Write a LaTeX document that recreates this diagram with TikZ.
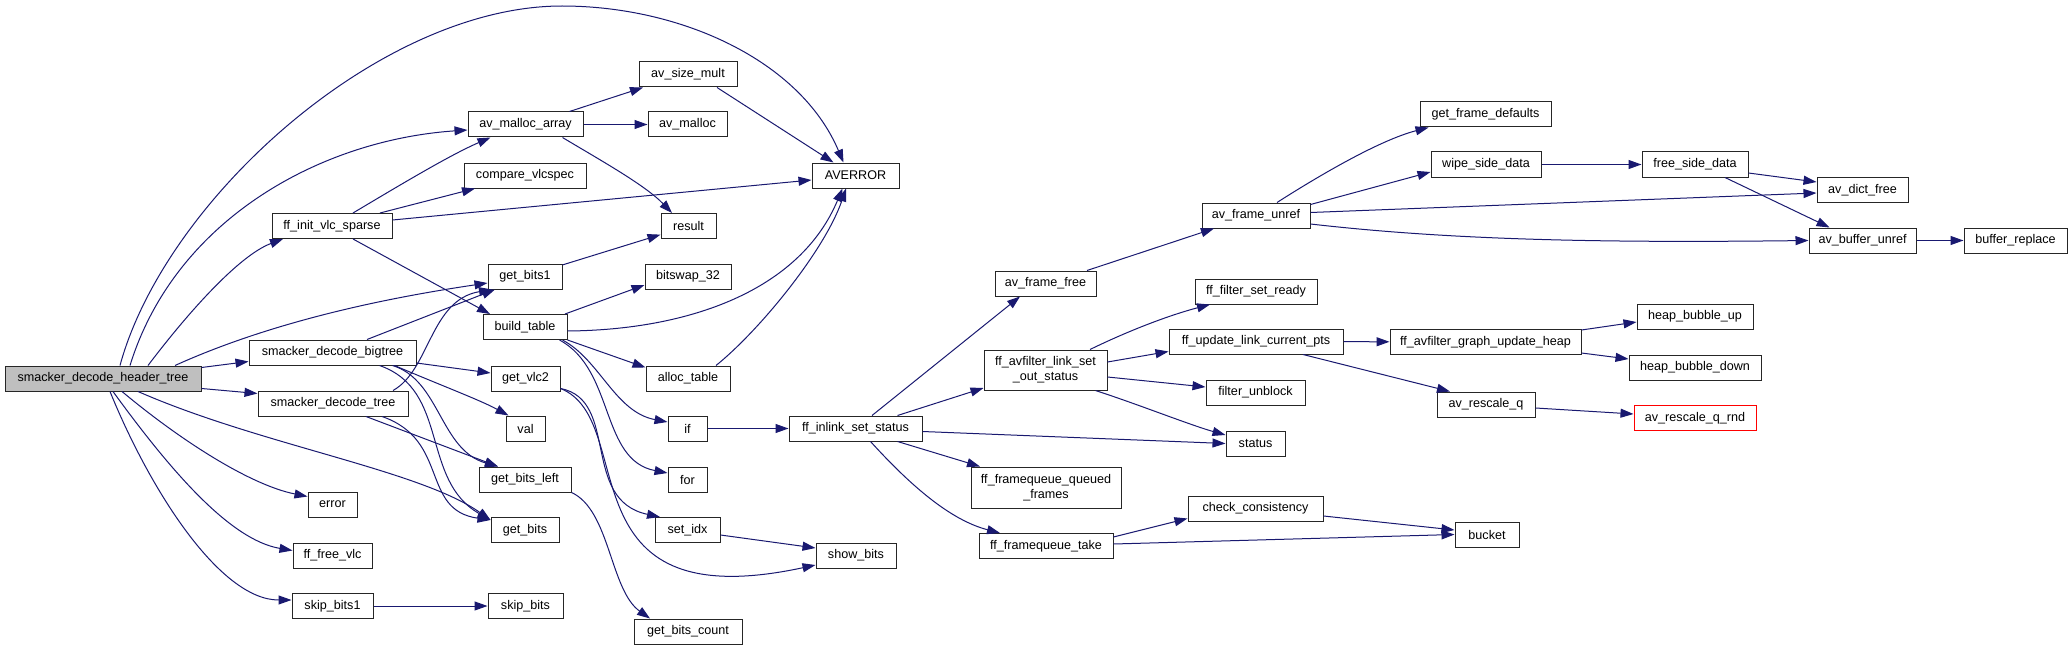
\documentclass[tikz,border=0pt]{standalone}
\usepackage{fontspec}
\setmainfont{Liberation Sans}
\usetikzlibrary{arrows.meta}
\definecolor{edgeblue}{HTML}{191970}
\definecolor{rootgrey}{HTML}{BFBFBF}
\tikzset{
  fn/.style={draw=black!85, line width=1pt, fill=white, inner sep=0pt, minimum height=25pt,
    font=\fontsize{12.6}{15}\selectfont, align=center},
  root/.style={fn, fill=rootgrey},
  redfn/.style={fn, draw=red},
  e/.style={draw=edgeblue, line width=1pt, -{Triangle[length=13pt,width=9pt]}},
}
\begin{document}
\begin{tikzpicture}[x=1pt,y=-1pt]
\useasboundingbox[fill=white] (0,0) rectangle (2072,650);
% nodes
\node[root, minimum width=196pt] (H) at (103,378.5) {smacker\_decode\_header\_tree};
\node[fn, minimum width=115pt] (M) at (525.5,124.5) {av\_malloc\_array};
\node[fn, minimum width=98pt] (asm) at (688,74.5) {av\_size\_mult};
\node[fn, minimum width=79pt] (am) at (687.5,124.5) {av\_malloc};
\node[fn, minimum width=122pt] (cv) at (525,175.5) {compare\_vlcspec};
\node[fn, minimum width=87pt] (AV) at (855.5,175.5) {AVERROR};
\node[fn, minimum width=120pt] (F) at (332,226) {ff\_init\_vlc\_sparse};
\node[fn, minimum width=55pt] (res) at (688.5,226) {result};
\node[fn, minimum width=74pt] (gb1) at (525,276.5) {get\_bits1};
\node[fn, minimum width=86pt] (bs) at (688,276.5) {bitswap\_32};
\node[fn, minimum width=84pt] (bt) at (525,327) {build\_table};
\node[fn, minimum width=167pt] (B) at (332.5,352.5) {smacker\_decode\_bigtree};
\node[fn, minimum width=69pt] (V) at (525.5,378.5) {get\_vlc2};
\node[fn, minimum width=84pt] (at) at (688,378.5) {alloc\_table};
\node[fn, minimum width=150pt] (T) at (333,403.5) {smacker\_decode\_tree};
\node[fn, minimum width=39pt] (val) at (525.5,428.5) {val};
\node[fn, minimum width=39pt] (if) at (687.5,428.5) {if};
\node[fn, minimum width=133pt] (IS) at (855.5,428.5) {ff\_inlink\_set\_status};
\node[fn, minimum width=92pt] (gbl) at (525,479.5) {get\_bits\_left};
\node[fn, minimum width=39pt] (for) at (687.5,479.5) {for};
\node[fn, minimum width=49pt] (err) at (332.5,504.5) {error};
\node[fn, minimum width=68pt] (gb) at (525,530) {get\_bits};
\node[fn, minimum width=65pt] (si) at (687.5,530) {set\_idx};
\node[fn, minimum width=79pt] (ffv) at (332.5,555.5) {ff\_free\_vlc};
\node[fn, minimum width=80pt] (sb) at (856,555.5) {show\_bits};
\node[fn, minimum width=81pt] (sk1) at (332.5,606) {skip\_bits1};
\node[fn, minimum width=75pt] (sk) at (525.5,606) {skip\_bits};
\node[fn, minimum width=108pt] (gbc) at (688,631.5) {get\_bits\_count};
\node[fn, minimum width=101pt] (aff) at (1045.5,283.5) {av\_frame\_free};
\node[fn, minimum width=108pt] (FU) at (1256,215.5) {av\_frame\_unref};
\node[fn, minimum width=122pt] (fsr) at (1256,291.5) {ff\_filter\_set\_ready};
\node[fn, minimum width=123pt, minimum height=40pt] (LS) at (1045.5,370) {ff\_avfilter\_link\_set\\\_out\_status};
\node[fn, minimum width=174pt] (UP) at (1256,341.5) {ff\_update\_link\_current\_pts};
\node[fn, minimum width=99pt] (fub) at (1255.5,392.5) {filter\_unblock};
\node[fn, minimum width=59pt] (st) at (1255.5,443.5) {status};
\node[fn, minimum width=150pt, minimum height=41pt] (qf) at (1046,487.5) {ff\_framequeue\_queued\\\_frames};
\node[fn, minimum width=135pt] (cc) at (1255.5,508.5) {check\_consistency};
\node[fn, minimum width=134pt] (tk) at (1046,546) {ff\_framequeue\_take};
\node[fn, minimum width=64pt] (bk) at (1487,534.5) {bucket};
\node[fn, minimum width=131pt] (gfd) at (1485.5,114.5) {get\_frame\_defaults};
\node[fn, minimum width=110pt] (wsd) at (1486,164.5) {wipe\_side\_data};
\node[fn, minimum width=106pt] (fsd) at (1695,164.5) {free\_side\_data};
\node[fn, minimum width=91pt] (adf) at (1862.5,190) {av\_dict\_free};
\node[fn, minimum width=107pt] (abu) at (1862.5,240.5) {av\_buffer\_unref};
\node[fn, minimum width=103pt] (br) at (2015.5,240.5) {buffer\_replace};
\node[fn, minimum width=116pt] (hbu) at (1695,316.5) {heap\_bubble\_up};
\node[fn, minimum width=191pt] (guh) at (1485.5,342) {ff\_avfilter\_graph\_update\_heap};
\node[fn, minimum width=132pt] (hbd) at (1695,367.5) {heap\_bubble\_down};
\node[fn, minimum width=98pt] (arq) at (1486,404.5) {av\_rescale\_q};
\node[redfn, minimum width=122pt] (arqr) at (1695,418) {av\_rescale\_q\_rnd};
\coordinate (apex) at (562,6);
% edges from root
\draw[e] ([xshift=17pt]H.north) .. controls (165,200) and (380,6) .. (apex) .. controls (680,6) and (800,60) .. ([xshift=-12pt]AV.north);
\draw[e] ([xshift=27pt]H.north) .. controls (175,220) and (320,140) .. ([yshift=-5.5pt]M.west);
\draw[e] ([xshift=45pt]H.north) .. controls (190,310) and (240,255) .. ([xshift=-49pt]F.south);
\draw[e] ([xshift=72pt]H.north) .. controls (280,318) and (400,296) .. ([yshift=-6.5pt]gb1.west);
\draw[e] ([yshift=11pt]H.east) -- ([yshift=-9pt]B.west);
\draw[e] ([yshift=-10pt]H.east) -- ([yshift=10pt]T.west);
\draw[e] ([xshift=35pt]H.south) .. controls (260,445) and (420,470) .. ([yshift=10pt]gb.west);
\draw[e] ([xshift=19pt]H.south) .. controls (180,440) and (250,485) .. ([yshift=8pt]err.west);
\draw[e] ([xshift=10pt]H.south) .. controls (170,470) and (230,540) .. ([yshift=5pt]ffv.west);
\draw[e] ([xshift=7pt]H.south) .. controls (150,490) and (220,600) .. ([yshift=6pt]sk1.west);
% ff_init_vlc_sparse
\draw[e] ([xshift=21pt]F.north) .. controls (400,185) and (450,155) .. ([xshift=-35pt]M.south);
\draw[e] ([xshift=48pt]F.north) -- ([xshift=-50pt]cv.south);
\draw[e] ([yshift=6pt]F.east) -- ([yshift=-4.5pt]AV.west);
\draw[e] ([xshift=21pt]F.south) -- ([xshift=-35pt]bt.north);
% av_malloc_array
\draw[e] ([xshift=44pt]M.north) -- ([xshift=-45pt]asm.south);
\draw[e] (M) -- (am);
\draw[e] ([xshift=37pt]M.south) .. controls (600,160) and (645,185) .. ([xshift=-16.5pt]res.north);
\draw[e] ([xshift=29pt]asm.south) -- ([xshift=-22pt]AV.north);
\draw[e] (gb1) -- (res);
\draw[e] ([xshift=28pt]at.north) .. controls (760,330) and (825,250) .. ([xshift=-9.5pt]AV.south);
% build_table
\draw[e] ([yshift=-4pt]bt.east) .. controls (690,330) and (800,290) .. ([xshift=-13pt]AV.south);
\draw[e] ([xshift=40pt]bt.north) -- ([yshift=-8.5pt]bs.west);
\draw[e] (bt.south east) -- ([yshift=11pt]at.west);
\draw[e] ([xshift=-5pt]bt.south east) .. controls (600,360) and (615,412) .. ([yshift=6.5pt]if.west);
\draw[e] ([xshift=-8pt]bt.south east) .. controls (615,370) and (600,460) .. ([yshift=6.5pt]for.west);
% bigtree
\draw[e] ([xshift=34.5pt]B.north) -- ([xshift=-30pt]gb1.south);
\draw[e] ([yshift=-10.5pt]B.east) -- ([yshift=5.5pt]V.west);
\draw[e] ([xshift=62pt]B.south) .. controls (440,385) and (480,400) .. ([xshift=-17pt]val.north);
\draw[e] ([xshift=60pt]B.south) .. controls (440,380) and (440,450) .. ([xshift=-27pt]gbl.north);
\draw[e] ([xshift=47pt]B.south) .. controls (450,390) and (420,480) .. ([yshift=10pt]gb.west);
% tree
\draw[e] ([xshift=60pt]T.north) .. controls (430,370) and (430,300) .. ([xshift=-33pt]gb1.south);
\draw[e] ([xshift=33pt]T.south) -- ([xshift=-27pt]gbl.north);
\draw[e] ([xshift=49pt]T.south) .. controls (450,440) and (420,510) .. ([yshift=10pt]gb.west);
% get_vlc2 etc
\draw[e] ([yshift=-10pt]V.east) .. controls (620,400) and (580,500) .. ([xshift=-27.5pt]si.north);
\draw[e] ([yshift=-10pt]V.east) .. controls (640,420) and (560,620) .. ([yshift=-9.5pt]sb.west);
\draw[e] (gbl.south east) .. controls (610,510) and (610,590) .. ([xshift=-38pt]gbc.north);
\draw[e] ([yshift=-5pt]si.east) -- ([yshift=7.5pt]sb.west);
\draw[e] (sk1) -- (sk);
\draw[e] (if) -- (IS);
% ff_inlink_set_status
\draw[e] ([xshift=16.5pt]IS.north) -- ([xshift=-25.5pt]aff.south);
\draw[e] ([xshift=42pt]IS.north) -- ([yshift=-18pt]LS.west);
\draw[e] ([yshift=-3pt]IS.east) -- (st.west);
\draw[e] ([xshift=42pt]IS.south) -- ([xshift=-66pt]qf.north);
\draw[e] ([xshift=15pt]IS.south) .. controls (910,485) and (950,520) .. ([xshift=-46pt]tk.north);
% av_frame
\draw[e] ([xshift=41.5pt]aff.north) -- ([xshift=-42pt]FU.south);
\draw[e] ([xshift=21pt]FU.north) .. controls (1320,175) and (1380,140) .. ([xshift=-57pt]gfd.south);
\draw[e] ([yshift=11pt]FU.east) -- ([yshift=-7.5pt]wsd.west);
\draw[e] ([yshift=3pt]FU.east) -- ([yshift=-3pt]adf.west);
\draw[e] ([yshift=-8.5pt]FU.east) .. controls (1450,240) and (1600,243) .. (abu.west);
\draw[e] (wsd) -- (fsd);
\draw[e] ([yshift=-8.5pt]fsd.east) -- ([yshift=8pt]adf.west);
\draw[e] ([xshift=30pt]fsd.south) -- ([xshift=-33pt]abu.north);
\draw[e] (abu) -- (br);
% link_set_out_status
\draw[e] ([xshift=44.5pt]LS.north) .. controls (1130,330) and (1170,315) .. ([xshift=-46pt]fsr.south);
\draw[e] ([yshift=8pt]LS.east) -- ([yshift=-10pt]UP.west);
\draw[e] ([yshift=-7pt]LS.east) -- ([yshift=5.5pt]fub.west);
\draw[e] ([xshift=50pt]LS.south) .. controls (1140,405) and (1190,425) .. ([yshift=8.5pt]st.west);
\draw[e] (UP) -- (guh);
\draw[e] ([xshift=47pt]UP.south) -- ([xshift=-36pt]arq.north);
\draw[e] ([yshift=12pt]guh.east) -- ([yshift=-5.5pt]hbu.west);
\draw[e] ([yshift=-11pt]guh.east) -- ([yshift=8.5pt]hbd.west);
\draw[e] ([yshift=-3.5pt]arq.east) -- ([yshift=4pt]arqr.west);
% framequeue_take
\draw[e] ([yshift=9pt]tk.east) -- ([yshift=-10pt]cc.west);
\draw[e] ([yshift=2pt]tk.east) -- (bk.west);
\draw[e] ([yshift=-7.5pt]cc.east) -- ([yshift=4.5pt]bk.west);
\end{tikzpicture}
\end{document}
